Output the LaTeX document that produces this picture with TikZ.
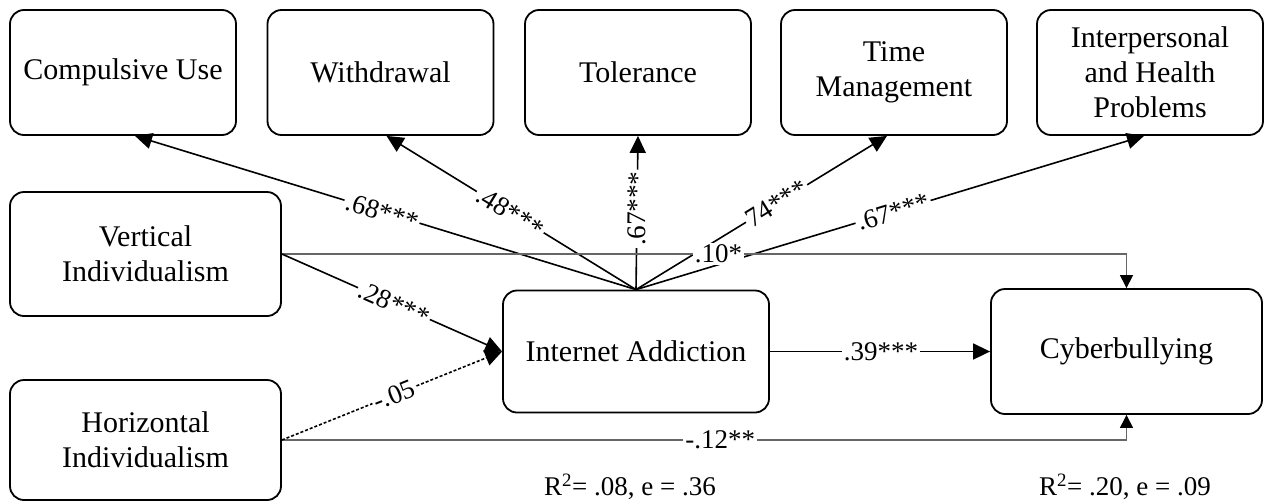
\documentclass[tikz,border=0pt]{standalone}
\usepackage{fontspec}
\setmainfont{Liberation Serif}
\usetikzlibrary{arrows.meta}
\begin{document}
\begin{tikzpicture}[x=1pt,y=-1pt,
  box/.style={draw, line width=1.8pt, rounded corners=14pt, align=center, inner sep=0pt, font=\fontsize{30}{35}\selectfont},
  topbox/.style={box, minimum width=226pt, minimum height=125pt},
  sidebox/.style={box, minimum width=271pt},
  mainarr/.style={line width=1.6pt, -{Triangle[length=17pt,width=16pt]}},
  thinarr/.style={draw=black!60, line width=1.1pt, -{Triangle[length=13pt,width=13pt,color=black]}},
  dotarr/.style={line width=1.6pt, dash pattern=on 3pt off 2pt, -{Triangle[length=17pt,width=16pt]}},
  lbl/.style={fill=white, inner sep=2pt, font=\fontsize{27}{30}\selectfont},
  plain/.style={inner sep=0pt, font=\fontsize{27}{30}\selectfont},
]
\useasboundingbox (0,0) rectangle (1264,501);
% top indicator boxes
\node[topbox] (comp) at (123,72.5) {Compulsive Use};
\node[topbox] (withd) at (380.5,72.5) {Withdrawal};
\node[topbox] (toler) at (638,72.5) {Tolerance};
\node[topbox] (timem) at (894,72.5) {Time\\Management};
\node[topbox] (inter) at (1150,72.5) {Interpersonal\\and Health\\Problems};
% predictors
\node[sidebox, minimum height=124pt] (vert) at (145.5,254) {Vertical\\Individualism};
\node[sidebox, minimum height=120pt] (horiz) at (145.5,440) {Horizontal\\Individualism};
% mediator and outcome
\node[box, minimum width=266pt, minimum height=122pt] (ia) at (636,351.5) {Internet Addiction};
\node[box, minimum width=271pt, minimum height=125pt] (cyber) at (1126.5,351.5) {Cyberbullying};
% coordinates
\coordinate (hub) at (ia.north);
\coordinate (tComp) at ([xshift=12pt]comp.south);
\coordinate (tWith) at ([xshift=6pt]withd.south);
\coordinate (tTol) at (toler.south);
\coordinate (tTime) at ([xshift=-7pt]timem.south);
\coordinate (tInt) at ([xshift=-6pt]inter.south);
\coordinate (cTop) at (vert.east -| cyber.north);
\coordinate (cBot) at (horiz.east -| cyber.south);
% connectors
\draw[mainarr] (hub) -- (tComp);
\draw[mainarr] (hub) -- (tWith);
\draw[mainarr] (hub) -- (tTol);
\draw[mainarr] (hub) -- (tTime);
\draw[mainarr] (hub) -- (tInt);
\draw[thinarr] (vert.east) -- (cTop) -- (cyber.north);
\draw[thinarr] (horiz.east) -- (cBot) -- (cyber.south);
\draw[mainarr] (vert.east) -- (ia.west);
\draw[dotarr] (horiz.east) -- (ia.west);
\draw[mainarr] (ia.east) -- (cyber.west);
% labels
\path (hub) -- (tComp) node[lbl, sloped, pos=0.507] (l1) {.68***};
\path (hub) -- (tWith) node[lbl, sloped, pos=0.504] (l2) {.48***};
\path (hub) -- (tTol) node[lbl, sloped, pos=0.526] (l3) {.67***};
\path (hub) -- (tTime) node[lbl, sloped, pos=0.56] (l4) {74***};
\path (hub) -- (tInt) node[lbl, sloped, pos=0.506] (l5) {.67***};
\path (vert.east) -- (cTop) node[lbl, pos=0.517] (l6) {.10*};
\path (horiz.east) -- (cBot) node[lbl, pos=0.519] (l7) {-.12**};
\path (vert.east) -- (ia.west) node[lbl, sloped, pos=0.509] (l8) {.28***};
\path (horiz.east) -- (ia.west) node[lbl, sloped, pos=0.51] (l9) {-.05};
\path (ia.east) -- (cyber.west) node[lbl, pos=0.505] (l10) {.39***};
% fit statistics
\node[plain] (r1) at (630,487) {R\textsuperscript{2}= .08, e = .36};
\node[plain] (r2) at (1125,487) {R\textsuperscript{2}= .20, e = .09};
\end{tikzpicture}
\end{document}
